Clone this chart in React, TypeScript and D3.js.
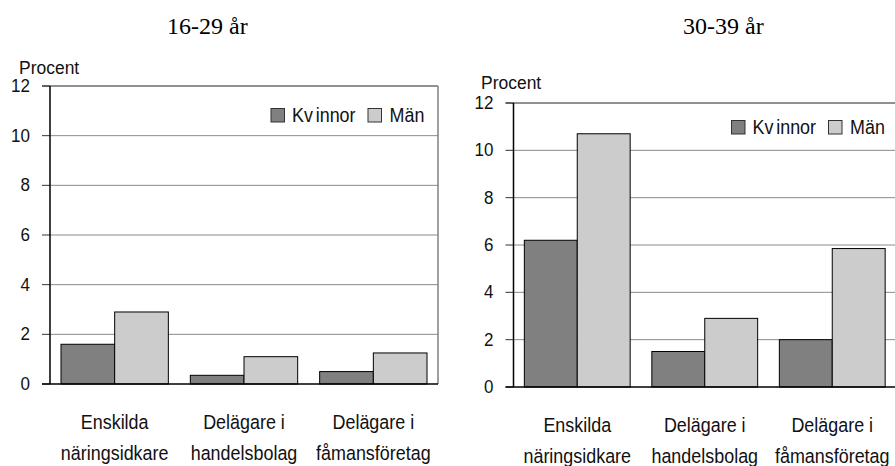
import React from "react";
import * as d3 from "d3";

const categories: string[][] = [
  ["Enskilda", "näringsidkare"],
  ["Delägare i", "handelsbolag"],
  ["Delägare i", "fåmansföretag"],
];
const yTicks = [0, 2, 4, 6, 8, 10, 12];
const kvinnor1629 = [1.6, 0.35, 0.5];
const man1629 = [2.9, 1.1, 1.25];
const kvinnor3039 = [6.2, 1.5, 2.0];
const man3039 = [10.7, 2.9, 5.85];
const subtitles = ["16-29 år", "30-39 år"];
const seriesNames = ["Kvinnor", "Män"];

const DARK = "#808080";
const LIGHT = "#cccccc";
const SANS = "'Liberation Sans', Arial, Helvetica, sans-serif";
const SERIF = "'Liberation Serif', 'Times New Roman', serif";
const SX = 0.92;

function NText(props: {
  x: number;
  y: number;
  size: number;
  anchor?: "start" | "middle" | "end";
  dy?: string;
  children: React.ReactNode;
}) {
  return (
    <g transform={`translate(${props.x},${props.y}) scale(${SX},1)`}>
      <text
        x={0}
        y={0}
        dy={props.dy}
        textAnchor={props.anchor || "start"}
        fontFamily={SANS}
        fontSize={props.size}
        fill="#111"
      >
        {props.children}
      </text>
    </g>
  );
}

interface PanelProps {
  x0: number;
  x1: number;
  yTop: number;
  yBottom: number;
  kv: number[];
  ma: number[];
  procentX: number;
  procentY: number;
  legendX: number;
  legendY: number;
  labelY: number;
  rightBorder: boolean;
}

function Panel(p: PanelProps) {
  const x = d3
    .scaleBand<number>()
    .domain(categories.map((_, i) => i))
    .range([p.x0, p.x1])
    .paddingInner(0.17)
    .paddingOuter(0.085);
  const y = d3.scaleLinear().domain([0, 12]).range([p.yBottom, p.yTop]);
  const bw = x.bandwidth() / 2;
  return (
    <g>
      {yTicks
        .filter((t) => t > 0 && t < 12)
        .map((t) => (
          <line
            key={"g" + t}
            x1={p.x0}
            x2={p.x1}
            y1={y(t)}
            y2={y(t)}
            stroke="#8a8a8a"
            strokeWidth={1}
          />
        ))}
      <line x1={p.x0 - 8} x2={p.x1} y1={y(12)} y2={y(12)} stroke="#222" strokeWidth={1} />
      {p.rightBorder && (
        <line x1={p.x1} x2={p.x1} y1={y(12)} y2={y(0)} stroke="#808080" strokeWidth={1.5} />
      )}
      {yTicks.map((t) => (
        <g key={"t" + t}>
          <line x1={p.x0 - 8} x2={p.x0} y1={y(t)} y2={y(t)} stroke="#333" strokeWidth={1} />
          <NText x={p.x0 - 20} y={y(t)} dy="0.33em" size={18.5} anchor="end">
            {t}
          </NText>
        </g>
      ))}
      {categories.map((_, i) => (
        <g key={"b" + i}>
          <rect
            x={x(i)!}
            y={y(p.kv[i])}
            width={bw}
            height={y(0) - y(p.kv[i])}
            fill={DARK}
            stroke="#000"
            strokeWidth={1}
          />
          <rect
            x={x(i)! + bw}
            y={y(p.ma[i])}
            width={bw}
            height={y(0) - y(p.ma[i])}
            fill={LIGHT}
            stroke="#000"
            strokeWidth={1}
          />
        </g>
      ))}
      <line x1={p.x0} x2={p.x0} y1={y(12)} y2={y(0)} stroke="#000" strokeWidth={1.5} />
      <line x1={p.x0 - 8} x2={p.x1} y1={y(0)} y2={y(0)} stroke="#000" strokeWidth={1.5} />
      <NText x={p.procentX} y={p.procentY} size={19}>
        Procent
      </NText>
      {categories.map((c, i) => (
        <g key={"c" + i}>
          <NText x={x(i)! + x.bandwidth() / 2} y={p.labelY} size={19.5} anchor="middle">
            {c[0]}
          </NText>
          <NText x={x(i)! + x.bandwidth() / 2} y={p.labelY + 31} size={19.5} anchor="middle">
            {c[1]}
          </NText>
        </g>
      ))}
      <rect x={p.legendX} y={p.legendY} width={13.5} height={13.5} fill={DARK} stroke="#333" strokeWidth={1} />
      <NText x={p.legendX + 21} y={p.legendY + 13.5} size={19.5}>
        <tspan>{seriesNames[0].slice(0, 2)}</tspan>
        <tspan dx={3}>{seriesNames[0].slice(2)}</tspan>
      </NText>
      <rect x={p.legendX + 97} y={p.legendY} width={13.5} height={13.5} fill={LIGHT} stroke="#333" strokeWidth={1} />
      <NText x={p.legendX + 118.5} y={p.legendY + 13.5} size={19.5}>
        {seriesNames[1]}
      </NText>
    </g>
  );
}

export default function App() {
  return (
    <svg
      width={895}
      height={466}
      viewBox="0 0 895 466"
      style={{ position: "absolute", left: 0, top: 0, background: "#fff" }}
    >
      <rect x={0} y={0} width={895} height={466} fill="#fff" />
      <text x={167} y={34} fontFamily={SERIF} fontSize={24} fill="#000">
        {subtitles[0]}
      </text>
      <text x={683} y={34} fontFamily={SERIF} fontSize={24} fill="#000">
        {subtitles[1]}
      </text>
      <Panel
        x0={50}
        x1={438}
        yTop={86}
        yBottom={384}
        kv={kvinnor1629}
        ma={man1629}
        procentX={19}
        procentY={74}
        legendX={271}
        legendY={108.5}
        labelY={429}
        rightBorder={true}
      />
      <Panel
        x0={513.5}
        x1={896}
        yTop={103}
        yBottom={387}
        kv={kvinnor3039}
        ma={man3039}
        procentX={481}
        procentY={89}
        legendX={731.5}
        legendY={120.5}
        labelY={432}
        rightBorder={false}
      />
    </svg>
  );
}
